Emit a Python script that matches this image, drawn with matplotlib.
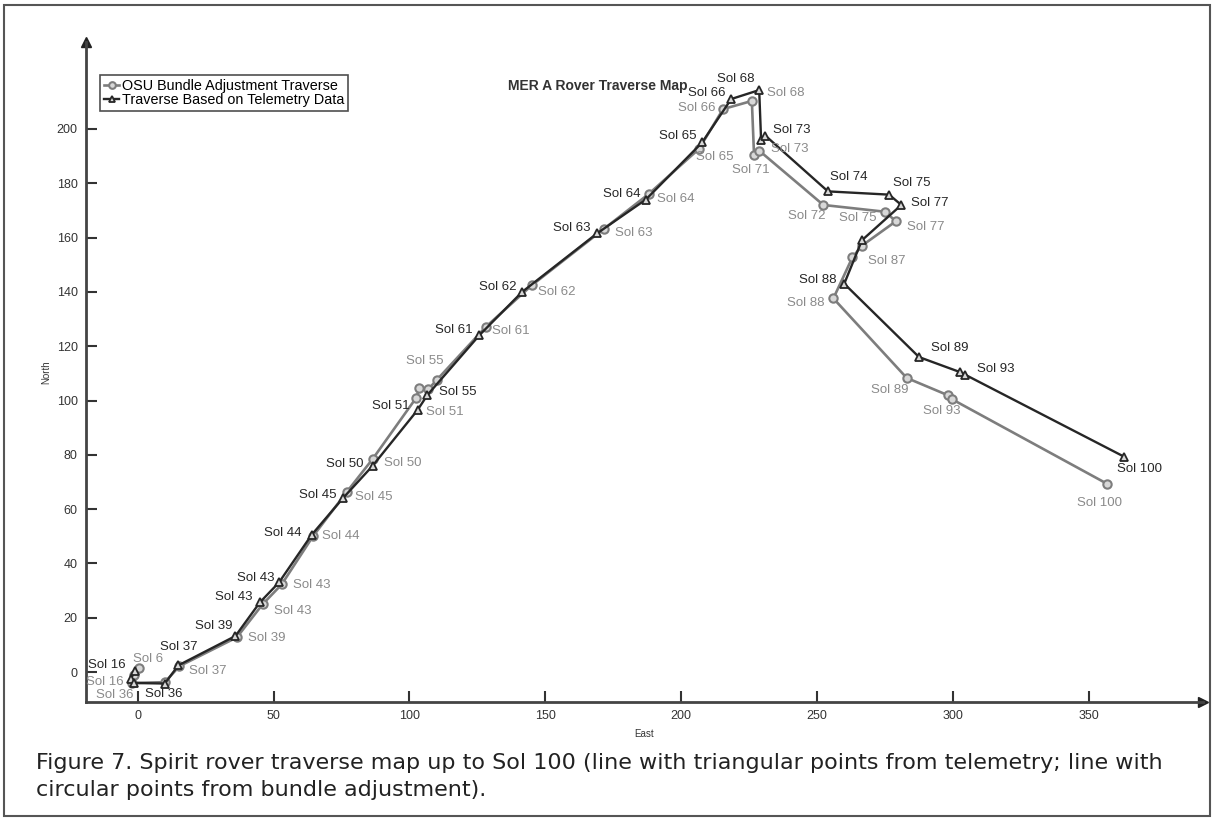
import matplotlib
matplotlib.use("Agg")
import matplotlib.pyplot as plt
from matplotlib.patches import Rectangle

plt.rcParams['font.family'] = ['Liberation Sans', 'DejaVu Sans']

# bundle adjustment traverse (circles)
b_sols = ["6", "16", "36", "", "37", "39", "43", "43", "44", "45", "50", "51", "55", "", "",
          "61", "62", "63", "64", "65", "66", "68", "71", "73", "72", "75", "77", "", "87",
          "88", "89", "93", "", "100"]
b_east = [0.5, -1.5, -2.0, 10.0, 15.4, 36.5, 46.0, 53.0, 64.5, 77.0, 86.5, 102.5, 103.7, 107.0, 110.0,
          128.0, 145.0, 171.7, 188.0, 206.6, 215.4, 226.0, 226.8, 228.7, 252.3, 275.0, 279.0, 266.5, 263.0,
          256.0, 283.0, 298.0, 299.6, 356.6]
b_north = [1.5, -1.0, -4.0, -3.7, 2.2, 12.8, 25.0, 32.3, 50.0, 66.4, 78.5, 101.0, 104.6, 104.2, 107.5,
           127.0, 142.4, 163.3, 176.0, 192.7, 207.3, 210.3, 190.5, 192.0, 172.0, 169.5, 166.0, 157.0, 152.7,
           137.6, 108.3, 102.0, 100.5, 69.4]

# telemetry traverse (triangles)
t_sols = ["16", "", "", "36", "37", "39", "43", "43", "44", "45", "50", "51", "55", "61", "62",
          "63", "64", "65", "66", "68", "", "73", "74", "75", "77", "", "88", "89", "", "93", "100"]
t_east = [-1.0, -2.5, -1.5, 10.0, 15.0, 36.0, 45.0, 52.0, 64.0, 75.5, 86.5, 103.0, 106.6, 125.7, 141.5,
          169.0, 187.0, 207.7, 218.4, 228.7, 229.4, 231.0, 254.0, 276.5, 281.0, 266.5, 260.0, 287.5, 302.5,
          304.5, 363.0]
t_north = [0.5, -2.5, -4.0, -4.2, 2.5, 13.3, 25.7, 33.0, 50.5, 64.0, 76.0, 96.5, 102.0, 124.0, 140.0,
           161.5, 174.0, 195.0, 211.0, 214.3, 196.0, 197.5, 177.0, 175.8, 172.0, 159.0, 143.0, 116.0, 110.5,
           109.5, 79.3]

# label offsets in pixels, one per point
b_off = [(9, 9), (-29, -7), (-17, -12), (0, 0), (28, -5), (30, -1), (30, -7), (30, -1), (28, 0), (27, -5),
         (30, -4), (29, -14), (5, 27), (0, 0), (0, 0), (25, -4), (25, -7), (29, -4), (27, -5), (16, -8),
         (-26, 1), (34, 8), (-3, -15), (31, 2), (-17, -11), (-27, -6), (30, -6), (0, 0), (34, -4),
         (-28, -5), (-17, -12), (-6, -16), (0, 0), (-7, -19)]
t_off = [(-28, 6), (0, 0), (0, 0), (-1, -10), (0, 18), (-22, 10), (-26, 5), (-23, 4), (-29, 2), (-25, 3),
         (-28, 2), (-27, 4), (30, 3), (-25, 5), (-24, 5), (-25, 5), (-24, 6), (-24, 6), (-24, 6), (-23, 11),
         (0, 0), (26, 6), (21, 14), (23, 12), (28, 2), (0, 0), (-27, 4), (31, 9), (0, 0), (31, 6), (15, -12)]

grey = "#7d7d7d"
dark = "#262626"

fig = plt.figure(figsize=(12.14, 8.18), dpi=100)
ax = fig.add_axes([86 / 1214, 116 / 818, 1117 / 1214, 660 / 818])

ax.plot(b_east, b_north, color=grey, lw=1.9, marker="o", ms=6, mfc="#d8d8d8", mec=grey, mew=1.5,
        label="OSU Bundle Adjustment Traverse")
ax.plot(t_east, t_north, color=dark, lw=1.7, marker="^", ms=6, mfc="#d8d8d8", mec=dark, mew=1.3,
        label="Traverse Based on Telemetry Data")

for s, x, y, off in zip(b_sols, b_east, b_north, b_off):
    if s:
        ax.annotate("Sol " + s, (x, y), xytext=off, textcoords="offset pixels",
                    ha="center", va="center", fontsize=9.5, color="#8a8a8a")
for s, x, y, off in zip(t_sols, t_east, t_north, t_off):
    if s:
        ax.annotate("Sol " + s, (x, y), xytext=off, textcoords="offset pixels",
                    ha="center", va="center", fontsize=9.5, color=dark)

ax.set_xlim(-19, 392)
ax.set_ylim(-11, 232)
ax.set_xticks(range(0, 351, 50))
ax.set_yticks(range(0, 201, 20))
ax.tick_params(direction="in", length=8, width=1.5, color="#333333", labelsize=9,
               labelcolor="#333333", pad=6)
for side in ["top", "right"]:
    ax.spines[side].set_visible(False)
for side in ["left", "bottom"]:
    ax.spines[side].set_linewidth(2)
    ax.spines[side].set_color("#444444")
# arrow heads at the axis ends
ax.plot(1, 0, ">", color="#222222", ms=7, transform=ax.transAxes, clip_on=False)
ax.plot(0, 1, "^", color="#222222", ms=7, transform=ax.transAxes, clip_on=False)

ax.set_xlabel("East", fontsize=7, color="#333333", labelpad=5)
ax.set_ylabel("North", fontsize=7, color="#333333", labelpad=4)
fig.text(598 / 1214, 1 - 86 / 818, "MER A Rover Traverse Map", fontsize=10, fontweight="bold",
         color="#333333", ha="center", va="center")

leg = ax.legend(loc="upper left", bbox_to_anchor=(0.0125, 0.95), borderaxespad=0,
                fontsize=10.4, frameon=True, fancybox=False, handlelength=1.1,
                handletextpad=0.2, borderpad=0.25, labelspacing=0.05, markerscale=0.8)
leg.get_frame().set_edgecolor("#222222")
leg.get_frame().set_linewidth(1.2)

fig.text(36 / 1214, 1 - 763 / 818,
         "Figure 7. Spirit rover traverse map up to Sol 100 (line with triangular points from telemetry; line with",
         family="DejaVu Sans", fontsize=16, color="#222222", va="center")
fig.text(36 / 1214, 1 - 790 / 818, "circular points from bundle adjustment).",
         family="DejaVu Sans", fontsize=16, color="#222222", va="center")

fig.patches.append(Rectangle((4 / 1214, 0.002), 1 - 8 / 1214, 0.992, transform=fig.transFigure,
                             fill=False, edgecolor="#555555", lw=1.5))

fig.savefig("out.png", dpi=100)
